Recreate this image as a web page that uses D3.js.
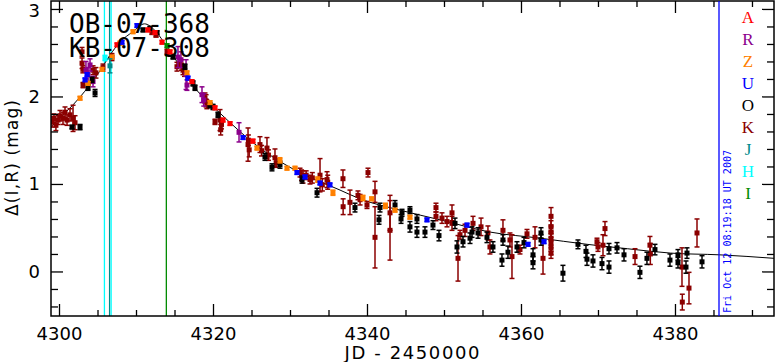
<!DOCTYPE html>
<html>
<head>
<meta charset="utf-8">
<script src="https://cdn.jsdelivr.net/npm/d3@7"></script>
<style>
  body { margin: 0; background: #fff; }
  svg { display: block; }
</style>
</head>
<body>
<script>
'use strict'

let width = 775
let height = 362
let box = { left: 51, right: 774, top: 1, bottom: 316 }

// event names, top left
let titleLines = ["OB-07-368", "KB-07-308"]
let xTitle = "JD - 2450000"
let yTitle = "\u0394(I,R) (mag)"
let dateStamp = "Fri Oct 12 08:19:18 UT 2007"

// observatory codes in the right column
let obsCodes = ["A", "R", "Z", "U", "O", "K", "J", "H", "I"]

// axis ticks
let xMajor = [4300, 4320, 4340, 4360, 4380]
let yMajor = [0, 1, 2, 3]

// model light curve: time, magnitude
let modelT = [4298.9, 4299.2, 4302.7, 4305.3, 4306.6, 4307.9, 4309.6, 4311.1, 4312.5, 4314.0, 4317.9, 4320.9,
  4326.1, 4330.0, 4336.5, 4339.1, 4344.3, 4349.5, 4356.0, 4362.5, 4368.6, 4373.8, 4379.4, 4385.8, 4392.9]
let modelMag = [1.64, 1.67, 1.99, 2.29, 2.47, 2.62, 2.74, 2.83, 2.75, 2.57, 2.07, 1.81,
  1.41, 1.19, 0.93, 0.83, 0.70, 0.59, 0.45, 0.38, 0.31, 0.26, 0.21, 0.19, 0.15]

// vertical markers (time, observatory)
let markTimes = [4305.9, 4306.57, 4306.77, 4313.94]
let markObs = ["H", "J", "H", "I"]

// photometry per observatory: [time, mag, error]
let dataK = [
  [4299.09, 1.71, 0.06], [4299.35, 1.75, 0.05], [4299.6, 1.67, 0.06], [4299.87, 1.73, 0.05], [4300.13, 1.78, 0.06],
  [4300.52, 1.75, 0.07], [4300.78, 1.82, 0.06], [4301.04, 1.73, 0.06], [4301.43, 1.79, 0.07], [4301.82, 1.75, 0.15],
  [4302.08, 1.70, 0.08], [4302.99, 2.51, 0.05], [4302.99, 2.38, 0.06], [4303.1, 2.31, 0.04], [4303.12, 2.13, 0.03],
  [4304.42, 2.30, 0.05], [4304.8, 2.27, 0.06], [4305.71, 2.33, 0.04], [4306.88, 2.45, 0.04],
  [4312.08, 2.73, 0.02], [4312.6, 2.70, 0.02], [4314.03, 2.51, 0.03], [4315.32, 2.34, 0.05], [4315.71, 2.38, 0.04],
  [4315.9, 2.36, 0.06], [4316.1, 2.30, 0.05], [4316.3, 2.28, 0.05], [4318.96, 1.98, 0.06], [4319.2, 1.91, 0.05],
  [4319.1, 1.95, 0.07], [4320.26, 1.71, 0.03], [4320.91, 1.73, 0.12], [4321.0, 1.62, 0.06], [4321.1, 1.68, 0.05],
  [4324.55, 1.45, 0.19], [4324.7, 1.39, 0.08], [4324.6, 1.50, 0.06], [4326.1, 1.45, 0.09], [4326.3, 1.38, 0.06],
  [4327.01, 1.41, 0.12], [4327.2, 1.33, 0.06], [4328.05, 1.30, 0.10], [4328.2, 1.24, 0.05], [4331.3, 1.13, 0.05],
  [4331.5, 1.10, 0.06], [4331.69, 1.08, 0.07], [4332.1, 1.10, 0.05], [4332.6, 1.05, 0.05], [4332.9, 1.07, 0.06],
  [4333.9, 1.10, 0.19], [4334.2, 0.99, 0.07], [4334.81, 1.05, 0.09], [4334.9, 1.02, 0.08], [4336.88, 1.06, 0.10],
  [4336.9, 0.74, 0.09], [4337.79, 0.79, 0.14], [4338.83, 0.87, 0.05], [4339.1, 0.82, 0.06], [4340.0, 0.76, 0.04],
  [4340.13, 1.13, 0.05], [4341.04, 0.91, 0.12], [4341.04, 0.39, 0.35], [4342.99, 0.67, 0.20], [4342.99, 0.47, 0.34],
  [4348.96, 0.73, 0.05], [4348.96, 0.63, 0.05], [4349.74, 0.61, 0.06], [4350.39, 0.57, 0.06], [4351.04, 0.67, 0.09],
  [4351.04, 0.55, 0.08], [4351.82, 0.15, 0.26], [4352.08, 0.42, 0.05], [4352.73, 0.47, 0.07], [4353.77, 0.55, 0.08],
  [4354.81, 0.51, 0.10], [4355.71, 0.44, 0.08], [4355.97, 0.28, 0.08], [4357.66, 0.47, 0.12], [4358.57, 0.36, 0.08],
  [4358.83, 0.17, 0.25], [4359.87, 0.25, 0.05], [4360.78, 0.43, 0.05], [4361.82, 0.39, 0.12], [4362.86, 0.15, 0.18],
  [4363.9, 0.63, 0.10], [4363.9, 0.51, 0.07], [4363.9, 0.45, 0.06], [4363.9, 0.38, 0.08], [4363.9, 0.33, 0.10],
  [4363.9, 0.27, 0.08], [4363.9, 0.21, 0.06], [4369.87, 0.34, 0.04], [4370.0, 0.28, 0.05], [4370.65, 0.30, 0.12],
  [4370.91, 0.49, 0.08], [4374.81, 0.17, 0.09], [4376.75, 0.30, 0.10], [4376.8, 0.20, 0.12], [4380.91, 0.05, 0.22],
  [4380.95, -0.35, 0.09], [4381.82, -0.19, 0.18], [4382.86, 0.44, 0.16]
]
let dataR = [
  [4303.5, 2.30, 0.10], [4303.77, 2.25, 0.08], [4304.03, 2.36, 0.07], [4304.42, 2.17, 0.06], [4315.45, 2.45, 0.12],
  [4315.84, 2.42, 0.09], [4316.5, 2.25, 0.17], [4316.62, 2.13, 0.06], [4318.57, 2.02, 0.09], [4318.8, 1.96, 0.07],
  [4323.38, 1.59, 0.11]
]
let dataO = [
  [4301.69, 1.65, 0.02], [4302.73, 1.65, 0.03], [4303.77, 2.10, 0.03], [4304.29, 2.19, 0.03], [4304.68, 2.04, 0.04],
  [4310.91, 2.76, 0.02], [4311.82, 2.78, 0.02], [4312.73, 2.73, 0.02], [4314.81, 2.45, 0.02], [4316.36, 2.34, 0.03],
  [4317.4, 2.15, 0.03], [4317.66, 2.10, 0.03], [4319.61, 1.90, 0.03], [4320.0, 1.88, 0.03], [4320.65, 1.79, 0.03],
  [4326.75, 1.31, 0.04], [4327.66, 1.19, 0.04], [4328.7, 1.22, 0.04], [4331.56, 1.05, 0.04], [4333.51, 0.90, 0.05],
  [4338.44, 0.73, 0.05], [4341.69, 0.73, 0.05], [4341.56, 0.59, 0.05], [4343.64, 0.76, 0.05], [4344.42, 0.60, 0.05],
  [4344.55, 0.67, 0.04], [4345.58, 0.70, 0.04], [4345.58, 0.51, 0.06], [4346.49, 0.60, 0.05], [4346.49, 0.45, 0.06],
  [4347.53, 0.45, 0.06], [4348.57, 0.53, 0.05], [4349.35, 0.41, 0.06], [4351.43, 0.55, 0.06], [4351.69, 0.28, 0.07],
  [4352.47, 0.34, 0.06], [4353.38, 0.38, 0.06], [4353.64, 0.45, 0.06], [4354.42, 0.44, 0.06], [4355.58, 0.39, 0.06],
  [4356.36, 0.28, 0.06], [4357.53, 0.13, 0.07], [4357.66, 0.36, 0.06], [4358.31, 0.22, 0.07], [4359.48, 0.28, 0.06],
  [4360.39, 0.33, 0.06], [4361.56, 0.19, 0.07], [4361.56, 0.10, 0.07], [4362.6, 0.44, 0.06], [4362.6, 0.36, 0.06],
  [4365.45, -0.02, 0.09], [4367.4, 0.31, 0.05], [4368.44, 0.23, 0.07], [4368.57, 0.14, 0.07], [4369.35, 0.12, 0.07],
  [4370.52, 0.09, 0.07], [4371.43, 0.26, 0.06], [4371.43, 0.05, 0.07], [4372.47, 0.27, 0.06], [4373.38, 0.19, 0.07],
  [4375.45, -0.01, 0.07], [4376.36, 0.15, 0.07], [4377.4, 0.25, 0.06], [4379.35, 0.13, 0.07], [4380.39, 0.19, 0.06],
  [4380.39, 0.10, 0.06], [4381.43, 0.05, 0.07], [4381.56, 0.21, 0.06], [4383.51, 0.11, 0.07]
]
let dataZ = [
  [4302.73, 1.98, 0.02], [4303.77, 2.15, 0.02], [4305.58, 2.31, 0.02], [4306.88, 2.45, 0.02], [4307.92, 2.61, 0.02],
  [4309.61, 2.74, 0.02], [4316.62, 2.27, 0.02], [4319.61, 1.93, 0.02], [4325.71, 1.41, 0.02], [4328.7, 1.27, 0.03],
  [4329.61, 1.18, 0.02], [4330.65, 1.18, 0.02], [4333.6, 1.05, 0.03], [4335.58, 0.90, 0.03], [4339.48, 0.84, 0.03],
  [4340.6, 0.83, 0.02], [4342.4, 0.75, 0.03], [4343.64, 0.70, 0.02], [4345.58, 0.62, 0.02]
]
let dataU = [
  [4303.38, 2.19, 0.02], [4303.64, 2.25, 0.02], [4308.18, 2.62, 0.02], [4310.13, 2.81, 0.02], [4316.75, 2.21, 0.02],
  [4323.9, 1.53, 0.02], [4330.91, 1.13, 0.02], [4331.95, 1.08, 0.02], [4333.9, 1.01, 0.02], [4335.19, 0.99, 0.02],
  [4347.79, 0.59, 0.02], [4352.99, 0.53, 0.02], [4360.91, 0.31, 0.02], [4362.99, 0.34, 0.02]
]
let dataA = [
  [4307.53, 2.59, 0.02], [4311.56, 2.76, 0.02], [4312.47, 2.73, 0.02], [4313.38, 2.62, 0.02], [4314.42, 2.51, 0.02],
  [4317.27, 2.17, 0.02], [4320.26, 1.87, 0.02], [4321.3, 1.73, 0.02], [4322.21, 1.69, 0.02], [4325.19, 1.49, 0.02]
]
let dataJ = [[4306.62, 2.35, 0.08]]
let dataH = [[4305.97, 2.44, 0.03]]
let dataI = [[4314.03, 2.58, 0.02]]

let obsColor = {
  A: "#ff0000", R: "#8b008b", Z: "#ff8000", U: "#0000ff", O: "#000000",
  K: "#8b0000", J: "#008b8b", H: "#00ffff", I: "#008b00"
}

// drawing order
let series = [["K", dataK], ["R", dataR], ["O", dataO], ["Z", dataZ], ["U", dataU],
  ["A", dataA], ["I", dataI], ["J", dataJ], ["H", dataH]]

let svg = d3.select("body").append("svg")
  .attr("width", width)
  .attr("height", height)

let x = d3.scaleLinear().domain([4298.96, 4392.86]).range([box.left, box.right])
let y = d3.scaleLinear().domain([-0.509, 3.091]).range([box.bottom, box.top])

svg.append("clipPath").attr("id", "clip")
  .append("rect")
  .attr("x", box.left).attr("y", box.top)
  .attr("width", box.right - box.left).attr("height", box.bottom - box.top)

let plot = svg.append("g").attr("clip-path", "url(#clip)")

// vertical markers
plot.selectAll("line.mark")
  .data(markTimes)
  .enter().append("line")
  .attr("class", "mark")
  .attr("x1", d => x(d)).attr("x2", d => x(d))
  .attr("y1", box.top).attr("y2", box.bottom)
  .style("stroke", (d, i) => obsColor[markObs[i]])
  .style("stroke-width", 1.3)

// model curve
let model = modelT.map((t, i) => [t, modelMag[i]])
plot.append("path")
  .datum(model)
  .attr("d", d3.line().x(d => x(d[0])).y(d => y(d[1])).curve(d3.curveMonotoneX))
  .style("fill", "none")
  .style("stroke", "#000")
  .style("stroke-width", 1)

// points with error bars
series.forEach(function(s) {
  let col = obsColor[s[0]]
  let g = plot.append("g").style("stroke", col).style("fill", col)
  let pts = g.selectAll("g").data(s[1]).enter().append("g")
  pts.append("line")
    .attr("x1", d => x(d[0])).attr("x2", d => x(d[0]))
    .attr("y1", d => y(d[1] - d[2])).attr("y2", d => y(d[1] + d[2]))
    .style("stroke-width", 1.5)
  pts.append("line")
    .attr("x1", d => x(d[0]) - 2.5).attr("x2", d => x(d[0]) + 2.5)
    .attr("y1", d => y(d[1] + d[2])).attr("y2", d => y(d[1] + d[2]))
    .style("stroke-width", 1.5)
  pts.append("line")
    .attr("x1", d => x(d[0]) - 2.5).attr("x2", d => x(d[0]) + 2.5)
    .attr("y1", d => y(d[1] - d[2])).attr("y2", d => y(d[1] - d[2]))
    .style("stroke-width", 1.5)
  pts.append("rect")
    .attr("x", d => x(d[0]) - 2.5).attr("y", d => y(d[1]) - 2.5)
    .attr("width", 5).attr("height", 5)
    .style("stroke", "none")
})

// axes, ticks point inward
let xMinor = d3.range(4300, 4395, 5).filter(v => xMajor.indexOf(v) < 0)
let yMinor = d3.range(-4, 31, 2).map(v => v / 10).filter(v => yMajor.indexOf(v) < 0)

function tickStyle(g) {
  g.select(".domain").remove()
  g.selectAll("line").style("stroke", "#000").style("stroke-width", 1.3)
  g.selectAll("text").style("font-family", "DejaVu Sans").style("font-size", "18px").style("fill", "#000")
}

svg.append("g").attr("transform", "translate(0," + box.bottom + ")")
  .call(d3.axisBottom(x).tickValues(xMajor).tickSize(-12).tickPadding(11).tickFormat(d3.format("d")))
  .call(tickStyle)
svg.append("g").attr("transform", "translate(0," + box.bottom + ")")
  .call(d3.axisBottom(x).tickValues(xMinor).tickSize(-6).tickFormat(""))
  .call(tickStyle)
svg.append("g").attr("transform", "translate(0," + box.top + ")")
  .call(d3.axisTop(x).tickValues(xMajor).tickSize(-12).tickFormat(""))
  .call(tickStyle)
svg.append("g").attr("transform", "translate(0," + box.top + ")")
  .call(d3.axisTop(x).tickValues(xMinor).tickSize(-6).tickFormat(""))
  .call(tickStyle)

let yAxisMajor = svg.append("g").attr("transform", "translate(" + box.left + ",0)")
  .call(d3.axisLeft(y).tickValues(yMajor).tickSize(-12).tickPadding(11).tickFormat(d3.format("d")))
  .call(tickStyle)
// keep the top label inside the page
yAxisMajor.selectAll("text").attr("dy", d => d === 3 ? "0.42em" : "0.32em")

svg.append("g").attr("transform", "translate(" + box.left + ",0)")
  .call(d3.axisLeft(y).tickValues(yMinor).tickSize(-7).tickFormat(""))
  .call(tickStyle)
svg.append("g").attr("transform", "translate(" + box.right + ",0)")
  .call(d3.axisRight(y).tickValues(yMajor).tickSize(-12).tickFormat(""))
  .call(tickStyle)
svg.append("g").attr("transform", "translate(" + box.right + ",0)")
  .call(d3.axisRight(y).tickValues(yMinor).tickSize(-7).tickFormat(""))
  .call(tickStyle)

// frame
svg.append("rect")
  .attr("x", box.left).attr("y", box.top)
  .attr("width", box.right - box.left).attr("height", box.bottom - box.top)
  .style("fill", "none").style("stroke", "#000").style("stroke-width", 1.5)

// axis titles
svg.append("text")
  .attr("x", 412).attr("y", 359)
  .attr("text-anchor", "middle")
  .attr("textLength", 135).attr("lengthAdjust", "spacing")
  .style("font-family", "DejaVu Sans").style("font-size", "18px")
  .text(xTitle)

svg.append("text")
  .attr("transform", "translate(18,158)rotate(-90)")
  .attr("text-anchor", "middle")
  .attr("textLength", 116).attr("lengthAdjust", "spacing")
  .style("font-family", "DejaVu Sans").style("font-size", "17px")
  .text(yTitle)

// event names
svg.selectAll("text.title")
  .data(titleLines)
  .enter().append("text")
  .attr("class", "title")
  .attr("x", 69).attr("y", (d, i) => 33 + i * 24)
  .style("font-family", "DejaVu Sans Mono").style("font-size", "26px")
  .text(d => d)

// date stamp column
svg.append("line")
  .attr("x1", 719).attr("x2", 719).attr("y1", box.top).attr("y2", box.bottom)
  .style("stroke", "#0000ff").style("stroke-width", 1.3)

svg.append("text")
  .attr("transform", "translate(731,313)rotate(-90)")
  .attr("textLength", 163).attr("lengthAdjust", "spacingAndGlyphs")
  .style("font-family", "DejaVu Sans Mono").style("font-size", "11px")
  .style("fill", "#0000ff")
  .text(dateStamp)

// observatory letters
svg.selectAll("text.obs")
  .data(obsCodes)
  .enter().append("text")
  .attr("class", "obs")
  .attr("x", 748).attr("y", (d, i) => 23 + i * 22)
  .attr("text-anchor", "middle")
  .style("font-family", "Liberation Serif").style("font-size", "17px")
  .style("fill", d => obsColor[d])
  .text(d => d)
</script>
</body>
</html>
